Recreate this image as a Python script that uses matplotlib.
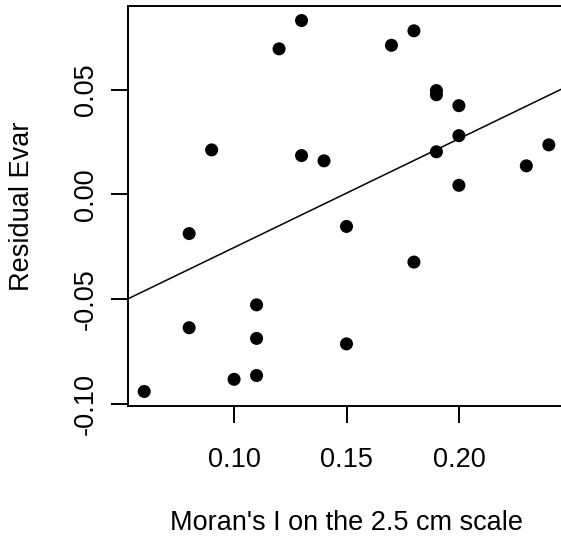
import matplotlib
matplotlib.use("Agg")
import matplotlib.pyplot as plt
import numpy as np

plt.rcParams['font.family'] = ['Liberation Sans', 'DejaVu Sans']

# Moran's I at the 2.5 cm scale vs residual Evar
morans_i = [0.09, 0.12, 0.13, 0.13, 0.14, 0.17, 0.18, 0.19, 0.19, 0.20,
            0.20, 0.19, 0.20, 0.23, 0.24, 0.08, 0.15, 0.18, 0.11, 0.08,
            0.11, 0.15, 0.10, 0.11, 0.06]
resid_evar = [0.0212, 0.0694, 0.0829, 0.0185, 0.0160, 0.0711, 0.0780, 0.0495,
              0.0475, 0.0423, 0.0280, 0.0203, 0.0043, 0.0136, 0.0236, -0.0187,
              -0.0153, -0.0323, -0.0527, -0.0636, -0.0687, -0.0713, -0.0882,
              -0.0864, -0.0940]

# fitted trend line (intercept, slope)
fit_intercept = -0.0772
fit_slope = 0.5186

x_ticks = [0.10, 0.15, 0.20]
x_tick_labels = ["0.10", "0.15", "0.20"]
y_ticks = [-0.10, -0.05, 0.00, 0.05]
y_tick_labels = ["-0.10", "-0.05", "0.00", "0.05"]

x = np.array(morans_i)
y = np.array(resid_evar)

fig = plt.figure(figsize=(5.61, 5.40), dpi=100)
W, H = 561, 540
left, right, top, bottom = 128, 565, 5.7, 406.3
ax = fig.add_axes([left / W, 1 - bottom / H, (right - left) / W, (bottom - top) / H])

ax.scatter(x, y, s=88, color='black', edgecolors='none', zorder=3, clip_on=False)

xr = x.max() - x.min()
yr = y.max() - y.min()
xlim = (x.min() - 0.04 * xr, x.max() + 0.04 * xr)
ylim = (y.min() - 0.04 * yr, y.max() + 0.04 * yr)
xx = np.array(xlim)
ax.plot(xx, fit_intercept + fit_slope * xx, color='black', lw=1.1)

ax.set_xlim(xlim)
ax.set_ylim(ylim)

for s in ax.spines.values():
    s.set_linewidth(1.4)
ax.spines['right'].set_visible(False)

ax.set_xticks(x_ticks)
ax.set_xticklabels(x_tick_labels)
ax.set_yticks(y_ticks)
ax.set_yticklabels(y_tick_labels, rotation=90, va='center')
ax.tick_params(axis='both', length=12, width=1.4, labelsize=19.5, direction='out')
ax.tick_params(axis='x', pad=17)
ax.tick_params(axis='y', pad=9)

fig.text(346.5 / W, 1 - 523 / H, "Moran's I on the 2.5 cm scale",
         ha='center', va='center', fontsize=19.5)
fig.text(22 / W, 1 - 206 / H, "Residual Evar", rotation=90,
         ha='center', va='center', fontsize=19.5)

fig.savefig("out.png", dpi=100)
